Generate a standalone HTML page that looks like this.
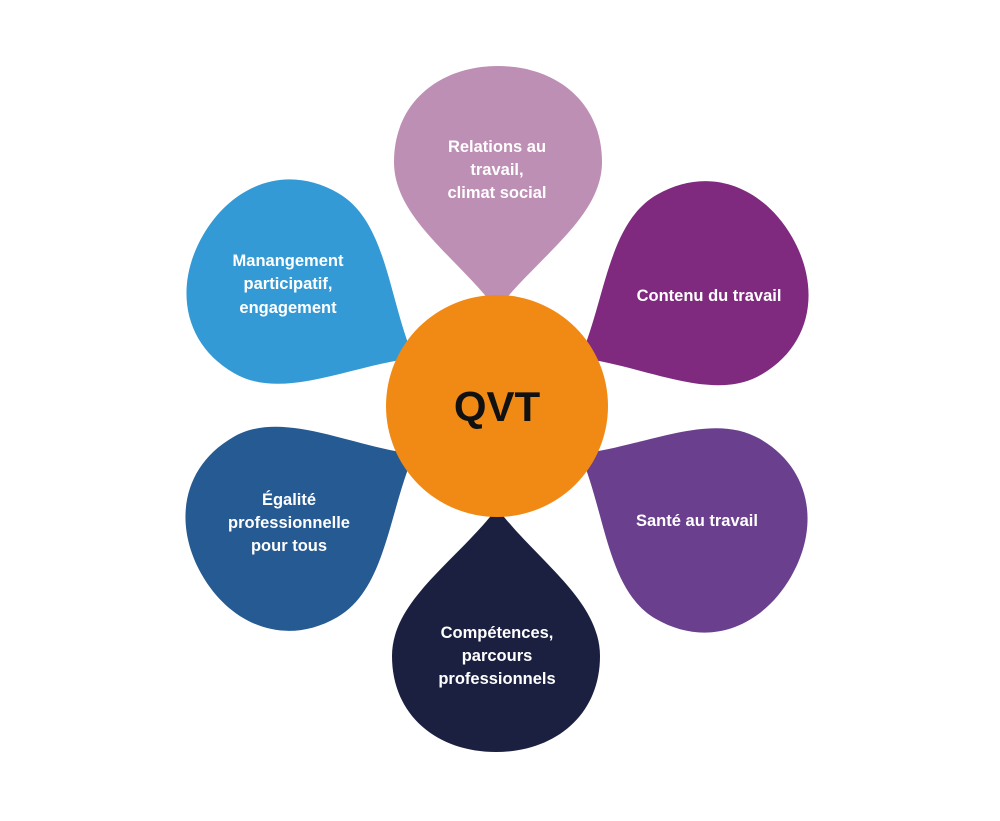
<!DOCTYPE html>
<html><head><meta charset="utf-8"><style>
body{margin:0;background:#fff}
svg{display:block}
text{font-family:"Liberation Sans",sans-serif;fill:#fff;font-size:16.5px;font-weight:bold;text-anchor:middle}
</style></head><body>
<svg width="1000" height="821" viewBox="0 0 1000 821">
<defs>
<path id="p" d="M497,310 C458,258 394,218 394,162 C394,102 440,66 498,66 C556,66 602,102 602,162 C602,218 536,258 497,310 Z"/>
</defs>
<use href="#p" fill="#BE8FB4"/>
<use href="#p" fill="#7F2A7E" transform="rotate(60 497 406)"/>
<use href="#p" fill="#6A408E" transform="rotate(120 497 406)"/>
<use href="#p" fill="#1C2040" transform="rotate(180 497 409)"/>
<use href="#p" fill="#255A93" transform="rotate(240 497 406)"/>
<use href="#p" fill="#349AD6" transform="rotate(300 497 406)"/>
<circle cx="497" cy="406" r="111" fill="#F18A15"/>
<text x="497" y="421" style="font-size:42px;fill:#111">QVT</text>
<text x="497" y="152">Relations au</text>
<text x="497" y="175">travail,</text>
<text x="497" y="198">climat social</text>
<text x="709" y="301">Contenu du travail</text>
<text x="697" y="526">Santé au travail</text>
<text x="497" y="638">Compétences,</text>
<text x="497" y="661">parcours</text>
<text x="497" y="684">professionnels</text>
<text x="289" y="505">Égalité</text>
<text x="289" y="528">professionnelle</text>
<text x="289" y="551">pour tous</text>
<text x="288" y="266">Manangement</text>
<text x="288" y="289">participatif,</text>
<text x="288" y="313">engagement</text>
</svg>
</body></html>
